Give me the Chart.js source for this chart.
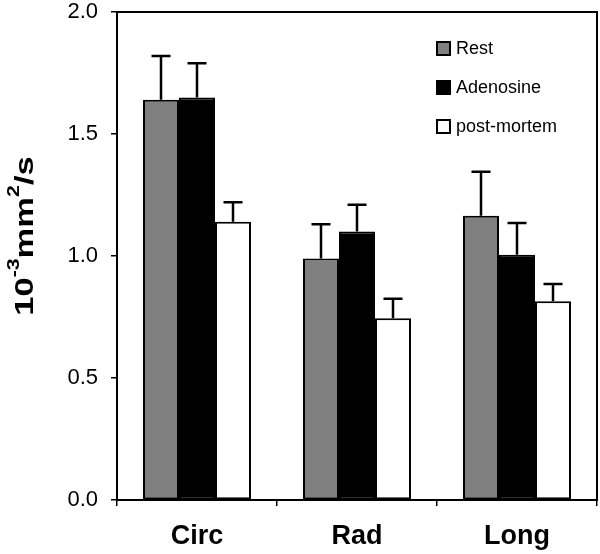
<!DOCTYPE html>
<html>
<head>
<meta charset="utf-8">
<script src="https://cdn.jsdelivr.net/npm/chart.js@4"></script>
<style>
  html, body { margin: 0; padding: 0; background: #fff; }
  #wrap { width: 600px; height: 554px; }
</style>
</head>
<body>
<div id="wrap"><canvas id="chart"></canvas></div>
<script>
const categories = ['Circ', 'Rad', 'Long'];
const seriesNames = ['Rest', 'Adenosine', 'post-mortem'];
const restValues = [1.64, 0.99, 1.165];
const adenosineValues = [1.65, 1.10, 1.005];
const postMortemValues = [1.14, 0.745, 0.815];
const restErrors = [0.18, 0.14, 0.18];
const adenosineErrors = [0.14, 0.11, 0.13];
const postMortemErrors = [0.08, 0.08, 0.07];
const yTicks = [0, 0.5, 1.0, 1.5, 2.0];
// y title pieces: [text, superscript?]
const yTitleParts = [['10', false], ['-3', true], ['mm', false], ['2', true], ['/s', false]];

const errorSets = [restErrors, adenosineErrors, postMortemErrors];
const fontFamily = '"Liberation Sans", Arial, sans-serif';

// upward-only error bars with a cap
const errorBarPlugin = {
    id: 'errorBars',
    afterDatasetsDraw(chart) {
        const ctx = chart.ctx;
        const yScale = chart.scales.y;
        ctx.save();
        ctx.strokeStyle = '#000';
        ctx.lineWidth = 2.5;
        chart.data.datasets.forEach(function (ds, i) {
            const meta = chart.getDatasetMeta(i);
            meta.data.forEach(function (bar, j) {
                const top = yScale.getPixelForValue(ds.data[j]);
                const cap = yScale.getPixelForValue(ds.data[j] + errorSets[i][j]);
                ctx.beginPath();
                ctx.moveTo(bar.x, top);
                ctx.lineTo(bar.x, cap);
                ctx.moveTo(bar.x - 9.5, cap);
                ctx.lineTo(bar.x + 9.5, cap);
                ctx.stroke();
            });
        });
        ctx.restore();
    }
};

// box round the plot area, the legend inside it and the y title with superscripts
const framePlugin = {
    id: 'frame',
    afterDraw(chart) {
        const ctx = chart.ctx;
        const area = chart.chartArea;
        ctx.save();
        ctx.strokeStyle = '#000';
        ctx.lineWidth = 2;
        ctx.strokeRect(area.left, area.top, area.right - area.left, area.bottom - area.top);

        ctx.font = '18px ' + fontFamily;
        ctx.textBaseline = 'middle';
        chart.data.datasets.forEach(function (ds, i) {
            const y = area.top + 37 + i * 39;
            const x = area.right - 160;
            ctx.fillStyle = ds.backgroundColor;
            ctx.fillRect(x, y - 7, 13, 13);
            ctx.lineWidth = 2;
            ctx.strokeStyle = '#000';
            ctx.strokeRect(x, y - 7, 13, 13);
            ctx.fillStyle = '#000';
            ctx.fillText(ds.label, x + 19, y);
        });

        // rotated y title, stretched along its length like the original
        const bigFont = 'bold 26px ' + fontFamily;
        const smallFont = 'bold 16px ' + fontFamily;
        ctx.textBaseline = 'alphabetic';
        ctx.textAlign = 'left';
        let total = 0;
        yTitleParts.forEach(function (p) {
            ctx.font = p[1] ? smallFont : bigFont;
            total += ctx.measureText(p[0]).width;
        });
        ctx.translate(33, 236);
        ctx.rotate(-Math.PI / 2);
        ctx.scale(1.33, 1);
        let x = -total / 2;
        ctx.fillStyle = '#000';
        yTitleParts.forEach(function (p) {
            ctx.font = p[1] ? smallFont : bigFont;
            ctx.fillText(p[0], x, p[1] ? -14 : 0);
            x += ctx.measureText(p[0]).width;
        });
        ctx.restore();
    }
};

const colors = ['#808080', '#000000', '#ffffff'];
const valueSets = [restValues, adenosineValues, postMortemValues];

new Chart(document.getElementById('chart'), {
    type: 'bar',
    data: {
        labels: categories,
        datasets: seriesNames.map(function (name, i) {
            return {
                label: name,
                data: valueSets[i],
                backgroundColor: colors[i],
                borderColor: '#000',
                borderWidth: 2,
                borderSkipped: false,
                barPercentage: 1.0,
                categoryPercentage: 0.675
            };
        })
    },
    options: {
        responsive: true,
        maintainAspectRatio: false,
        animation: false,
        layout: { padding: { top: 0, right: 3, left: 0, bottom: 0 } },
        plugins: {
            legend: { display: false },
            tooltip: { enabled: false }
        },
        scales: {
            x: {
                grid: { drawOnChartArea: false, drawTicks: true, tickLength: 6, color: '#000', lineWidth: 1.5 },
                border: { display: true, color: '#000', width: 2 },
                ticks: {
                    color: '#000',
                    padding: 14,
                    font: { family: fontFamily, size: 27, weight: 'bold' }
                },
                afterFit(scale) { scale.height = 54; }
            },
            y: {
                min: 0,
                max: 2,
                afterBuildTicks(scale) {
                    scale.ticks = yTicks.map(function (v) { return { value: v }; });
                },
                grid: { drawOnChartArea: false, drawTicks: true, tickLength: 6, color: '#000', lineWidth: 1.5 },
                border: { display: true, color: '#000', width: 2 },
                ticks: {
                    color: '#000',
                    padding: 13,
                    font: { family: fontFamily, size: 22 },
                    callback: function (v) { return Number(v).toFixed(1); }
                },
                afterFit(scale) {
                    scale.width = 117;
                    scale.paddingTop = 12;
                }
            }
        }
    },
    plugins: [errorBarPlugin, framePlugin]
});
</script>
</body>
</html>
